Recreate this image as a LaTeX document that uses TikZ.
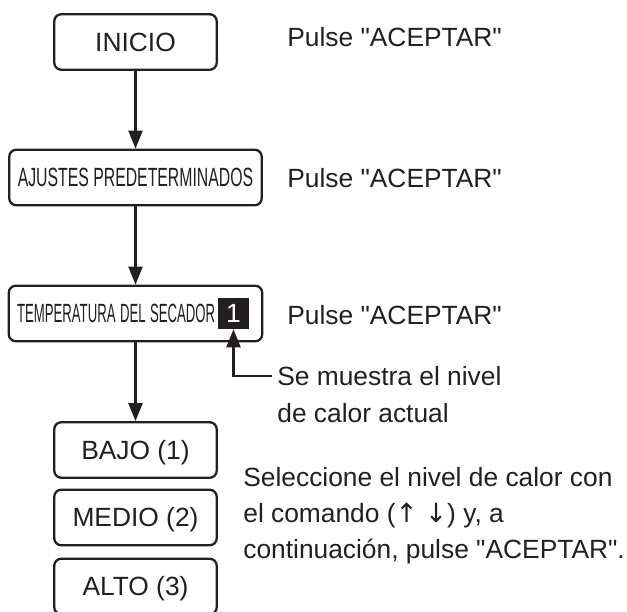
\documentclass[tikz,border=0pt]{standalone}
\usepackage{fontspec}
\setmainfont{Liberation Sans}
\newfontfamily\arrowfont{DejaVu Sans}
\usepackage{graphicx}
\usepackage{tikz}
\usetikzlibrary{arrows.meta,positioning,calc}
\definecolor{ink}{RGB}{35,31,32}
\newcommand{\squeeze}[2]{\scalebox{#1}[1]{#2}}

\begin{document}
\begin{tikzpicture}[x=0.02cm, y=-0.02cm,
        box/.style={rectangle, draw=ink, line width=1.3pt, rounded corners=0.14cm, minimum width=3.25cm, minimum height=1.11cm, inner sep=0pt, align=center, text=ink, font=\fontsize{15pt}{18pt}\selectfont, text height=10.7pt, text depth=0pt},
        note/.style={align=left, anchor=base west, text=ink, inner sep=0pt, font=\fontsize{15pt}{20.5pt}\selectfont},
        arrow/.style={-{Triangle[length=0.36cm, width=0.28cm]}, line width=1.3pt, ink}]

        \useasboundingbox (0,0) rectangle (627,612);

        \node[box] (inicio) at (135.5,42) {INICIO};
        \node[box, minimum width=5.05cm] (ajustes) at (135.5,177.5) {\squeeze{0.6}{AJUSTES PREDETERMINADOS}};
        \node[box, minimum width=5.07cm, text width=4.74cm, align=left] (temp) at (135.5,313.5) {\squeeze{0.5}{TEMPERATURA DEL SECADOR}};
        \node[fill=ink, text=white, minimum size=0.62cm, inner sep=0pt, font=\fontsize{15pt}{18pt}\selectfont] (nivel) at (233.5,313.5) {1};
        \node[box] (bajo) at (135.5,450) {BAJO (1)};
        \node[box] (medio) at (135.5,517.5) {MEDIO (2)};
        \node[box] (alto) at (135.5,586.5) {ALTO (3)};

        % base anchor of a multi-line note = its last line
        \node[note] (aceptar1) at (287,47) {Pulse \textquotedbl ACEPTAR\textquotedbl};
        \node[note] (aceptar2) at (287,188) {Pulse \textquotedbl ACEPTAR\textquotedbl};
        \node[note] (aceptar3) at (287,325) {Pulse \textquotedbl ACEPTAR\textquotedbl};
        \node[note] (nota) at (277,422) {Se muestra el nivel\\de calor actual};
        \node[note] (selec) at (243,559) {Seleccione el nivel de calor con\\el comando ({\arrowfont ↑} {\arrowfont ↓}) y, a\\continuación, pulse \textquotedbl ACEPTAR\textquotedbl.};

        \draw[arrow] (inicio.south) -- (inicio.south |- ajustes.north);
        \draw[arrow] (ajustes.south) -- (ajustes.south |- temp.north);
        \draw[arrow] (temp.south) -- (temp.south |- bajo.north);
        \coordinate (notaend) at (272,376);
        \draw[arrow] (notaend) -| (nivel.south);

\end{tikzpicture}
\end{document}
